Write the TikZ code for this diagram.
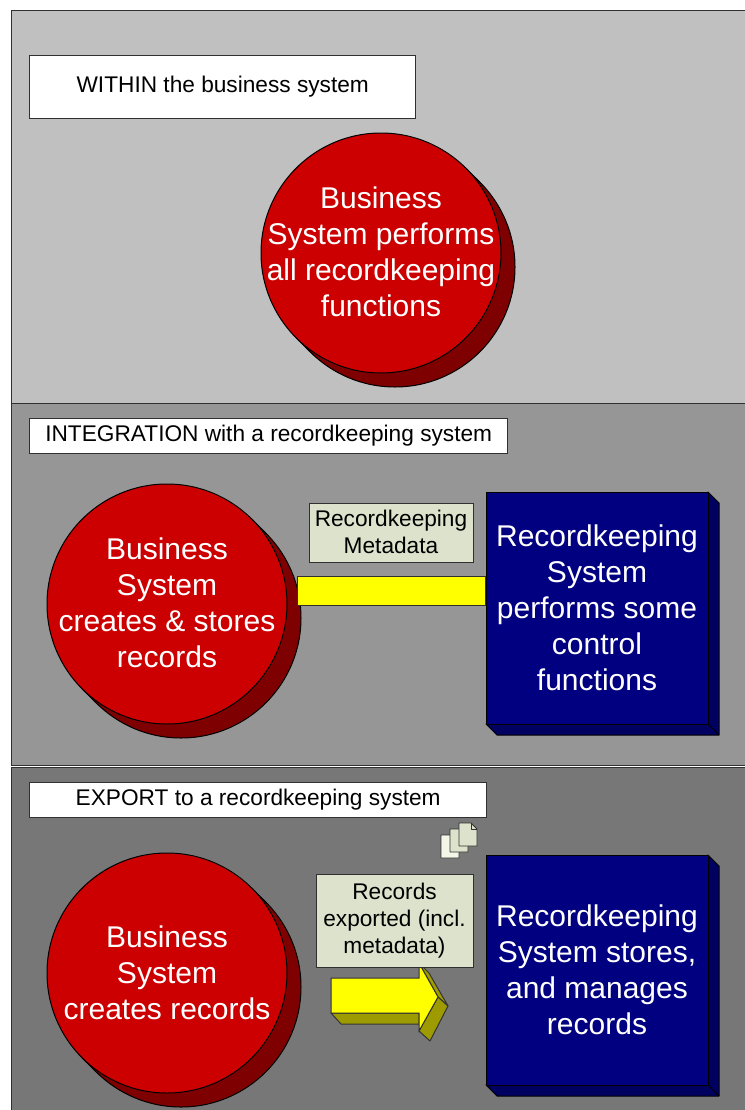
\documentclass[tikz,border=0pt]{standalone}
\usepackage{fontspec}
\setmainfont{Liberation Sans}
\definecolor{pone}{HTML}{C0C0C0}
\definecolor{ptwo}{HTML}{969696}
\definecolor{pthree}{HTML}{777777}
\definecolor{redfront}{HTML}{CC0000}
\definecolor{redside}{HTML}{7F0000}
\definecolor{navyfront}{HTML}{000080}
\definecolor{navyside}{HTML}{000060}
\definecolor{labelfill}{HTML}{DDE2CC}
\definecolor{docpale}{HTML}{F4F6E8}
\definecolor{arrowside}{HTML}{9E9B00}
\definecolor{purey}{HTML}{FFFF00}
\definecolor{edgegrey}{HTML}{303030}
\newcommand{\pxw}[1]{#1*0.75pt}
\tikzset{
  panelbox/.style={draw=edgegrey,line width=0.75pt},
  headbox/.style={draw=edgegrey,fill=white,line width=0.75pt,inner sep=0pt,align=center,font=\fontsize{17}{20}\selectfont},
  tagbox/.style={draw=edgegrey,fill=labelfill,line width=0.75pt,inner sep=0pt,align=center,font=\fontsize{17}{20.25}\selectfont},
  bigtext/.style={text=white,align=center,font=\fontsize{22.5}{27}\selectfont,inner sep=0pt},
  redball/.style={circle,draw=black,fill=redfront,line width=0.75pt,minimum size=\pxw{240},inner sep=0pt},
  redback/.style={draw=black,fill=redside,line width=0.75pt},
  navyface/.style={draw=black,fill=navyfront,line width=0.75pt,inner sep=0pt,bigtext},
  navyback/.style={draw=black,fill=navyside,line width=0.75pt,line join=round},
  yellowface/.style={draw=edgegrey,fill=purey,line width=0.75pt},
  oliveface/.style={draw=black!80,fill=arrowside,line width=0.75pt,line join=round},
  docpage/.style={draw=edgegrey,line width=0.6pt,line join=round}
}
\newcommand{\ballback}[2]{%
  \filldraw[redback] (#1+14,#2+14) circle (120);
  \fill[redside] (#1+84.85,#2-84.85) -- (#1+98.85,#2-70.85) -- (#1-70.85,#2+98.85) -- (#1-84.85,#2+84.85) -- cycle;
  \draw[redback] (#1+84.85,#2-84.85) -- (#1+98.85,#2-70.85) (#1-70.85,#2+98.85) -- (#1-84.85,#2+84.85);
}
\newcommand{\boxback}[4]{% left top right bottom of the face
  \filldraw[navyback] (#3,#2) -- (#3+11,#2+11) -- (#3+11,#4+11) -- (#1+11,#4+11) -- (#1,#4) -- cycle;
  \draw[navyback,fill=none] (#3,#4) -- (#3+11,#4+11);
}
\newcommand{\docsheet}[3]{% left top fill
  \filldraw[docpage,fill=#3] (#1,#2) -- (#1+12,#2) -- (#1+18,#2+6) -- (#1+18,#2+23) -- (#1,#2+23) -- cycle;
  \draw[docpage] (#1+12,#2) -- (#1+12,#2+6) -- (#1+18,#2+6);
}
\begin{document}
\begin{tikzpicture}[x=0.75pt,y=-0.75pt]
\useasboundingbox (0,0) rectangle (744,1110);
\fill[white] (0,0) rectangle (744,1110);
% panels
\filldraw[panelbox,fill=pone] (11.5,10.5) rectangle (750,403);
\filldraw[panelbox,fill=ptwo] (11.5,403.5) rectangle (750,765);
\filldraw[panelbox,fill=pthree] (11.5,767) rectangle (750,1116);
% headings
\node[headbox,minimum width=\pxw{386},minimum height=\pxw{63}] (within) at (222.7,86.5) {\raisebox{-0.5pt}{WITHIN the business system}};
\node[headbox,minimum width=\pxw{478},minimum height=\pxw{35}] (integration) at (268.7,435.5) {\raisebox{-0.5pt}{INTEGRATION with a recordkeeping system}};
\node[headbox,minimum width=\pxw{457},minimum height=\pxw{35}] (export) at (258.2,799.5) {\raisebox{-0.5pt}{EXPORT to a recordkeeping system}};
% panel 1
\ballback{381}{253}
\node[redball] (ballone) at (381,253) {};
\node[bigtext] (ballonetext) at (381,252) {Business\\System performs\\all recordkeeping\\functions};
% panel 2
\ballback{167}{604}
\node[redball] (balltwo) at (167,604) {};
\node[bigtext] (balltwotext) at (167,602.5) {Business\\System\\creates \& stores\\records};
\filldraw[yellowface] (297,576) rectangle (485,605);
\node[tagbox,minimum width=\pxw{164},minimum height=\pxw{59}] (metatag) at (391,532.5) {\raisebox{0.6pt}{Recordkeeping}\\\raisebox{0.6pt}{Metadata}};
\boxback{486}{492}{708}{724}
\node[navyface,minimum width=\pxw{222},minimum height=\pxw{232}] (boxtwo) at (597,608) {Recordkeeping\\System\\performs some\\control\\functions};
% panel 3
\ballback{167}{973}
\node[redball] (ballthree) at (167,973) {};
\node[bigtext] (ballthreetext) at (167,972.5) {Business\\System\\creates records};
% arrow
\filldraw[oliveface] (331,1013) -- (341,1024) -- (419,1024) -- (419,1013) -- cycle;
\filldraw[oliveface] (419,963) -- (429,973) -- (448,1006) -- (438,997) -- cycle;
\filldraw[oliveface] (438,997) -- (448,1006) -- (430,1041) -- (419,1031) -- cycle;
\filldraw[yellowface] (331,978) -- (419,978) -- (419,963) -- (438,997) -- (419,1031) -- (419,1013) -- (331,1013) -- cycle;
\node[tagbox,minimum width=\pxw{157},minimum height=\pxw{93}] (recordstag) at (394.5,920.5) {Records\\exported (incl.\\metadata)};
% document stack
\docsheet{441}{835}{docpale}
\docsheet{450}{829}{labelfill}
\docsheet{459}{823}{labelfill}
\boxback{486}{855}{708}{1085}
\node[navyface,minimum width=\pxw{222},minimum height=\pxw{230}] (boxthree) at (597,970) {Recordkeeping\\System stores,\\and manages\\records};
\end{tikzpicture}
\end{document}
